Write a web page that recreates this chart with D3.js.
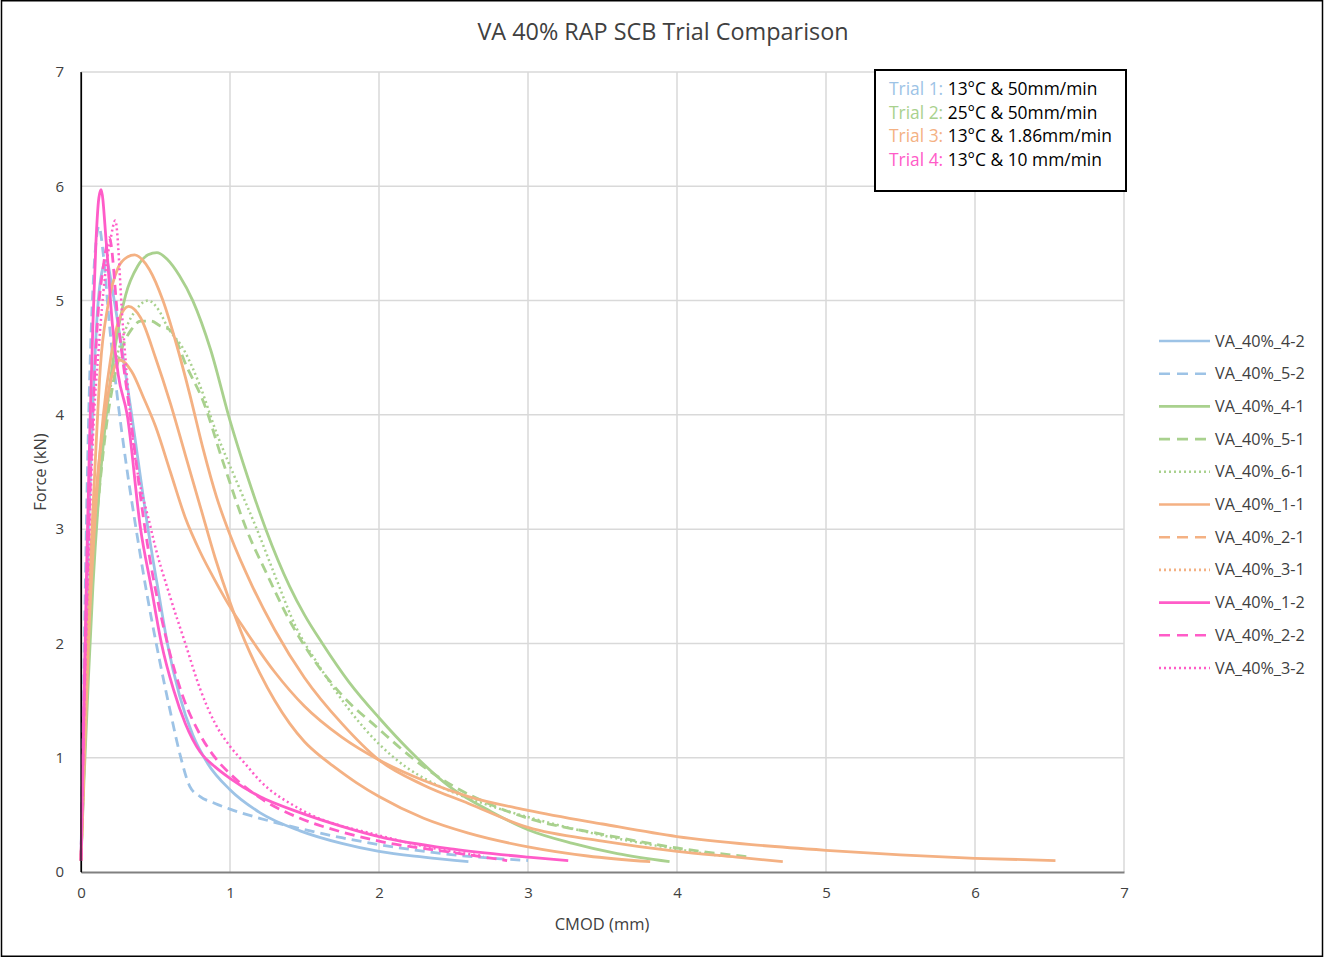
<!DOCTYPE html>
<html>
<head>
<meta charset="utf-8">
<script src="https://cdn.jsdelivr.net/npm/d3@7"></script>
<style>
  html, body { margin: 0; padding: 0; background: #fff; }
  svg text { font-family: "Open Sans", "Noto Sans", sans-serif; fill: #404040; }
</style>
</head>
<body>
<svg id="chart" width="1324" height="957"></svg>
<script>
// ---- Data: CMOD (mm) vs Force (kN) for each specimen ----
const seriesNames = ["VA_40%_4-2", "VA_40%_5-2", "VA_40%_4-1", "VA_40%_5-1", "VA_40%_6-1",
                     "VA_40%_1-1", "VA_40%_2-1", "VA_40%_3-1", "VA_40%_1-2", "VA_40%_2-2", "VA_40%_3-2"];

// Trial 1 (13°C, 50 mm/min)
const cmod_4_2  = [0, 0.02, 0.05, 0.08, 0.11, 0.14, 0.17, 0.21, 0.26, 0.34, 0.45, 0.52, 0.58, 0.66, 0.75, 0.85, 1.0, 1.2, 1.47, 1.75, 2.0, 2.3, 2.6];
const force_4_2 = [0.1, 1.5, 3.0, 4.1, 4.9, 5.25, 5.35, 5.1, 4.7, 4.0, 3.0, 2.45, 2.0, 1.55, 1.2, 0.95, 0.72, 0.52, 0.36, 0.25, 0.18, 0.13, 0.09];
const cmod_5_2  = [0, 0.02, 0.04, 0.06, 0.08, 0.10, 0.12, 0.15, 0.19, 0.24, 0.30, 0.37, 0.44, 0.52, 0.60, 0.67, 0.73, 0.8, 0.9, 1.0, 1.2, 1.47, 1.75, 2.0, 2.5, 3.0];
const force_5_2 = [0.1, 1.8, 3.3, 4.4, 5.1, 5.5, 5.65, 5.4, 4.8, 4.2, 3.6, 3.0, 2.45, 1.9, 1.4, 1.0, 0.75, 0.66, 0.6, 0.55, 0.47, 0.38, 0.3, 0.24, 0.15, 0.1];

// Trial 2 (25°C, 50 mm/min)
const cmod_4_1  = [0, 0.02, 0.05, 0.08, 0.12, 0.17, 0.23, 0.3, 0.38, 0.45, 0.51, 0.58, 0.66, 0.75, 0.87, 1.0, 1.12, 1.24, 1.4, 1.5, 1.62, 1.8, 2.0, 2.2, 2.48, 2.75, 3.0, 3.3, 3.6, 3.95];
const force_4_1 = [0.1, 0.8, 1.7, 2.5, 3.3, 4.0, 4.6, 5.05, 5.3, 5.4, 5.42, 5.36, 5.22, 5.0, 4.57, 3.95, 3.45, 3.0, 2.5, 2.25, 2.0, 1.66, 1.35, 1.07, 0.74, 0.53, 0.37, 0.25, 0.16, 0.09];
const cmod_5_1  = [0, 0.02, 0.05, 0.08, 0.12, 0.17, 0.22, 0.28, 0.34, 0.40, 0.47, 0.53, 0.6, 0.71, 0.82, 0.95, 1.11, 1.25, 1.4, 1.55, 1.75, 2.0, 2.25, 2.5, 2.75, 3.0, 3.5, 4.0, 4.5];
const force_5_1 = [0.1, 0.9, 1.9, 2.7, 3.3, 3.9, 4.3, 4.6, 4.75, 4.82, 4.82, 4.78, 4.74, 4.42, 4.12, 3.6, 3.0, 2.6, 2.2, 1.88, 1.55, 1.25, 0.97, 0.75, 0.59, 0.47, 0.33, 0.21, 0.13];
const cmod_6_1  = [0, 0.02, 0.05, 0.08, 0.12, 0.17, 0.23, 0.3, 0.37, 0.45, 0.52, 0.58, 0.69, 0.8, 0.91, 1.05, 1.18, 1.3, 1.44, 1.6, 1.8, 2.0, 2.18, 2.36, 2.7, 3.03, 3.5, 4.0, 4.3];
const force_6_1 = [0.1, 0.9, 1.9, 2.7, 3.4, 4.0, 4.45, 4.75, 4.92, 5.0, 4.92, 4.77, 4.57, 4.25, 3.84, 3.4, 3.0, 2.6, 2.15, 1.8, 1.42, 1.12, 0.92, 0.78, 0.6, 0.47, 0.32, 0.2, 0.14];

// Trial 3 (13°C, 1.86 mm/min)
const cmod_1_1  = [0, 0.02, 0.04, 0.07, 0.10, 0.13, 0.18, 0.25, 0.31, 0.36, 0.41, 0.46, 0.55, 0.64, 0.73, 0.82, 0.91, 1.0, 1.15, 1.3, 1.5, 1.75, 2.0, 2.3, 2.6, 3.0, 3.5, 4.0, 4.4, 4.71];
const force_1_1 = [0.1, 1.0, 1.9, 2.9, 3.7, 4.42, 4.95, 5.29, 5.38, 5.4, 5.36, 5.27, 5.0, 4.62, 4.18, 3.7, 3.28, 2.95, 2.5, 2.12, 1.7, 1.3, 0.98, 0.76, 0.6, 0.39, 0.27, 0.18, 0.13, 0.09];
const cmod_2_1  = [0, 0.02, 0.05, 0.1, 0.15, 0.2, 0.26, 0.32, 0.4, 0.5, 0.6, 0.7, 0.8, 0.9, 1.0, 1.1, 1.2, 1.3, 1.4, 1.5, 1.6, 1.7, 1.85, 2.0, 2.3, 2.6, 3.0, 3.4, 3.82];
const force_2_1 = [0.1, 0.9, 2.0, 3.2, 4.0, 4.5, 4.85, 4.95, 4.85, 4.5, 4.1, 3.65, 3.2, 2.75, 2.36, 2.02, 1.74, 1.5, 1.3, 1.14, 1.02, 0.92, 0.78, 0.66, 0.47, 0.34, 0.22, 0.14, 0.09];
const cmod_3_1  = [0, 0.02, 0.05, 0.1, 0.15, 0.2, 0.26, 0.34, 0.42, 0.5, 0.6, 0.7, 0.8, 0.9, 1.0, 1.1, 1.3, 1.5, 1.75, 2.0, 2.3, 2.6, 3.0, 3.5, 4.0, 4.5, 5.0, 5.5, 6.0, 6.54];
const force_3_1 = [0.1, 1.0, 2.2, 3.3, 3.9, 4.3, 4.48, 4.38, 4.15, 3.9, 3.5, 3.1, 2.8, 2.55, 2.32, 2.12, 1.75, 1.45, 1.18, 0.98, 0.8, 0.66, 0.54, 0.42, 0.31, 0.24, 0.19, 0.15, 0.12, 0.1];

// Trial 4 (13°C, 10 mm/min)
const cmod_1_2  = [0, 0.02, 0.04, 0.06, 0.08, 0.10, 0.12, 0.135, 0.17, 0.21, 0.25, 0.31, 0.40, 0.47, 0.54, 0.62, 0.70, 0.8, 0.9, 1.0, 1.2, 1.47, 1.75, 2.0, 2.5, 3.0, 3.27];
const force_1_2 = [0.1, 1.5, 2.8, 3.9, 4.8, 5.5, 5.9, 5.97, 5.5, 4.8, 4.35, 4.0, 3.0, 2.5, 2.0, 1.6, 1.3, 1.05, 0.92, 0.82, 0.66, 0.52, 0.4, 0.31, 0.2, 0.13, 0.1];
const cmod_2_2  = [0, 0.02, 0.05, 0.08, 0.11, 0.15, 0.19, 0.25, 0.33, 0.43, 0.58, 0.68, 0.8, 0.9, 1.0, 1.2, 1.47, 1.75, 2.0, 2.5, 2.86];
const force_2_2 = [0.1, 1.4, 2.9, 4.0, 4.8, 5.3, 5.55, 4.8, 4.0, 3.0, 2.0, 1.55, 1.2, 1.0, 0.86, 0.65, 0.47, 0.35, 0.27, 0.17, 0.1];
const cmod_3_2  = [0, 0.02, 0.05, 0.08, 0.12, 0.16, 0.2, 0.23, 0.28, 0.33, 0.47, 0.6, 0.70, 0.8, 0.9, 1.0, 1.1, 1.2, 1.47, 2.0, 2.4, 2.7];
const force_3_2 = [0.1, 1.3, 2.7, 3.8, 4.6, 5.2, 5.55, 5.7, 4.8, 4.0, 3.0, 2.4, 2.0, 1.6, 1.3, 1.1, 0.95, 0.8, 0.55, 0.32, 0.2, 0.14];

const cmodSets  = [cmod_4_2, cmod_5_2, cmod_4_1, cmod_5_1, cmod_6_1, cmod_1_1, cmod_2_1, cmod_3_1, cmod_1_2, cmod_2_2, cmod_3_2];
const forceSets = [force_4_2, force_5_2, force_4_1, force_5_1, force_6_1, force_1_1, force_2_1, force_3_1, force_1_2, force_2_2, force_3_2];

const xTicks = [0, 1, 2, 3, 4, 5, 6, 7];
const yTicks = [0, 1, 2, 3, 4, 5, 6, 7];

const trialLabels = ["Trial 1:", "Trial 2:", "Trial 3:", "Trial 4:"];
const trialConditions = ["13°C & 50mm/min", "25°C & 50mm/min", "13°C & 1.86mm/min", "13°C & 10 mm/min"];

// ---- Styling ----
const trialColors = ["#9DC3E6", "#A9D18E", "#F4B183", "#FF5CC8"];
const seriesTrial = [0, 0, 1, 1, 1, 2, 2, 2, 3, 3, 3];
const seriesStyle = ["solid", "dash", "solid", "dash", "dot", "solid", "dash", "dot", "solid", "dash", "dot"];
const dashFor = { solid: null, dash: "10,6", dot: "2,3" };
// the slow-rate (orange) traces are sampled so densely that their gaps fill in
const plotDashFor = (i) => seriesTrial[i] === 2 ? null : dashFor[seriesStyle[i]];

const svg = d3.select("#chart");
const W = 1324, H = 957;
const plot = { left: 81, right: 1124, top: 72, bottom: 872 };

// outer frame
svg.append("rect").attr("x", 1.5).attr("y", 0.75).attr("width", W - 3).attr("height", H - 1.5)
  .attr("fill", "#fff").attr("stroke", "#000").attr("stroke-width", 1.5);

const x = d3.scaleLinear().domain([0, 7]).range([plot.left, plot.right]);
const y = d3.scaleLinear().domain([0, 7]).range([plot.bottom, plot.top]);

// gridlines
const grid = svg.append("g");
grid.selectAll("line.h").data(yTicks.filter(d => d > 0)).join("line")
  .attr("x1", plot.left).attr("x2", plot.right)
  .attr("y1", d => y(d)).attr("y2", d => y(d))
  .attr("stroke", "#D9D9D9").attr("stroke-width", 1.5);
grid.selectAll("line.v").data(xTicks.filter(d => d > 0)).join("line")
  .attr("y1", plot.top).attr("y2", plot.bottom)
  .attr("x1", d => x(d)).attr("x2", d => x(d))
  .attr("stroke", "#D9D9D9").attr("stroke-width", 1.5);

// axes
const xAxis = svg.append("g").attr("transform", `translate(0,${plot.bottom})`)
  .call(d3.axisBottom(x).tickValues(xTicks).tickSize(0).tickPadding(15).tickFormat(d3.format("d")));
xAxis.select(".domain").attr("stroke", "#808080").attr("stroke-width", 2);
xAxis.selectAll("text").style("font-size", "15px").attr("fill", "#404040");

const yAxis = svg.append("g").attr("transform", `translate(${plot.left},0)`)
  .call(d3.axisLeft(y).tickValues(yTicks).tickSize(0).tickPadding(17).tickFormat(d3.format("d")));
yAxis.select(".domain").attr("stroke", "#000").attr("stroke-width", 1.2);
yAxis.selectAll("text").style("font-size", "15px").attr("fill", "#404040");

// series lines
const line = d3.line().x(d => x(d[0])).y(d => y(d[1])).curve(d3.curveMonotoneX);
const lines = svg.append("g");
seriesNames.forEach((name, i) => {
  const pts = cmodSets[i].map((c, k) => [c, forceSets[i][k]]);
  lines.append("path")
    .datum(pts)
    .attr("d", line)
    .attr("fill", "none")
    .attr("stroke", trialColors[seriesTrial[i]])
    .attr("stroke-width", seriesStyle[i] === "dot" && seriesTrial[i] !== 2 ? 2.5 : 2.8)
    .attr("stroke-dasharray", plotDashFor(i))
    .attr("stroke-linejoin", "round");
});

// y axis line on top of the traces
svg.append("line").attr("x1", plot.left).attr("x2", plot.left)
  .attr("y1", plot.top).attr("y2", plot.bottom).attr("stroke", "#000").attr("stroke-width", 1.2);

// title
svg.append("text").attr("x", 663).attr("y", 40).attr("text-anchor", "middle")
  .style("font-size", "23.4px").attr("fill", "#262626").text("VA 40% RAP SCB Trial Comparison");

// axis titles
svg.append("text").attr("x", 602).attr("y", 930).attr("text-anchor", "middle")
  .style("font-size", "16.5px").attr("fill", "#404040").text("CMOD (mm)");
svg.append("text").attr("transform", "translate(46,472) rotate(-90)").attr("text-anchor", "middle")
  .style("font-size", "16.5px").attr("fill", "#404040").text("Force (kN)");

// trial conditions box
const box = svg.append("g");
box.append("rect").attr("x", 875).attr("y", 70).attr("width", 251).attr("height", 121)
  .attr("fill", "#fff").attr("stroke", "#000").attr("stroke-width", 2);
trialLabels.forEach((t, i) => {
  const tx = box.append("text").attr("x", 889).attr("y", 95 + i * 23.7).style("font-size", "17.4px");
  tx.append("tspan").attr("fill", trialColors[i]).text(t + " ");
  tx.append("tspan").attr("fill", "#000").text(trialConditions[i]);
});

// series legend
const leg = svg.append("g");
seriesNames.forEach((name, i) => {
  const ly = 341 + i * 32.7;
  leg.append("line").attr("x1", 1159).attr("x2", 1210).attr("y1", ly).attr("y2", ly)
    .attr("stroke", trialColors[seriesTrial[i]]).attr("stroke-width", 2.6)
    .attr("stroke-dasharray", seriesStyle[i] === "dash" ? "11,7" : seriesStyle[i] === "dot" ? "2,3" : null);
  leg.append("text").attr("x", 1215).attr("y", ly + 5.5).style("font-size", "16.2px")
    .attr("fill", "#404040").text(name);
});
</script>
</body>
</html>
